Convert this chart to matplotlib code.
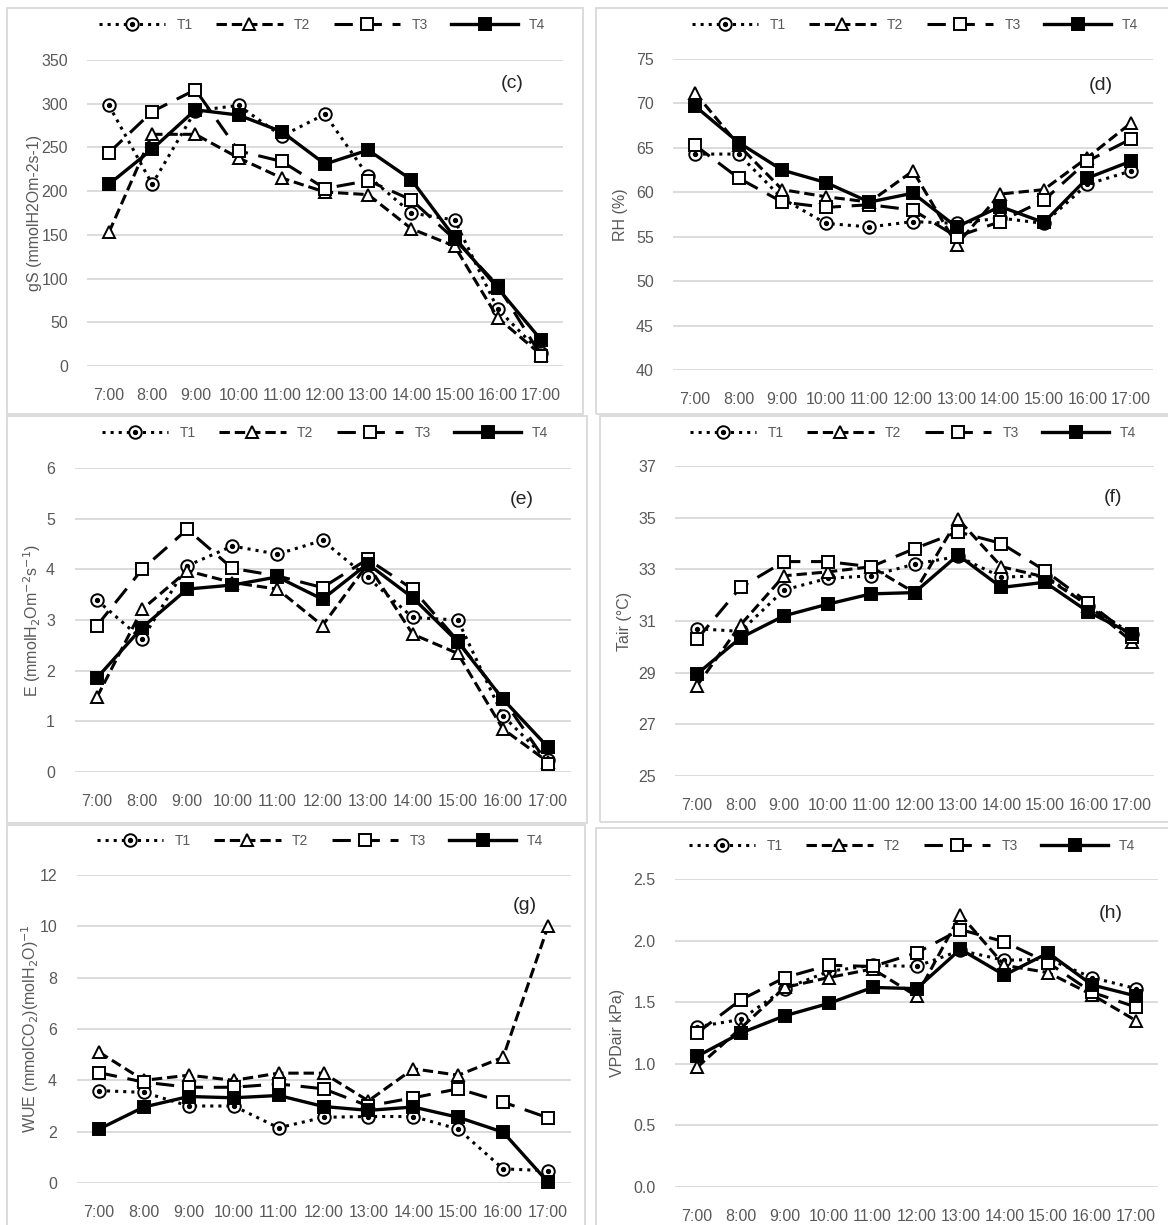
import matplotlib
matplotlib.use("Agg")
import matplotlib.pyplot as plt
from matplotlib.patches import Rectangle
from matplotlib.ticker import FormatStrFormatter

plt.rcParams['font.family'] = ['Liberation Sans', 'DejaVu Sans']

W, H = 1168, 1225
GREY = '#595959'
GRID = '#d9d9d9'

# --- donnees ---
hours = ['7:00', '8:00', '9:00', '10:00', '11:00', '12:00',
         '13:00', '14:00', '15:00', '16:00', '17:00']
treatments = ['T1', 'T2', 'T3', 'T4']

gs_T1 = [298, 208, 292, 298, 263, 288, 217, 175, 167, 65, 15]
gs_T2 = [153, 265, 265, 238, 215, 199, 196, 157, 137, 55, 13]
gs_T3 = [244, 291, 316, 246, 234, 203, 212, 190, 145, 92, 12]
gs_T4 = [208, 248, 293, 287, 268, 231, 247, 213, 147, 89, 30]

rh_T1 = [64.3, 64.3, 59.3, 56.5, 56.1, 56.7, 56.5, 57.1, 56.5, 60.9, 62.4]
rh_T2 = [71.2, 65.3, 60.3, 59.5, 58.9, 62.4, 54.1, 59.8, 60.3, 63.9, 67.8]
rh_T3 = [65.3, 61.6, 58.9, 58.3, 58.6, 58.0, 55.0, 56.7, 59.1, 63.5, 66.0]
rh_T4 = [69.7, 65.6, 62.5, 61.1, 58.9, 59.9, 56.1, 58.4, 56.6, 61.6, 63.5]

e_T1 = [3.39, 2.62, 4.07, 4.46, 4.30, 4.57, 3.84, 3.05, 3.00, 1.11, 0.23]
e_T2 = [1.48, 3.21, 3.97, 3.74, 3.61, 2.89, 4.10, 2.72, 2.34, 0.85, 0.20]
e_T3 = [2.89, 4.00, 4.79, 4.02, 3.87, 3.64, 4.20, 3.61, 2.59, 1.44, 0.16]
e_T4 = [1.86, 2.85, 3.61, 3.69, 3.85, 3.41, 4.11, 3.44, 2.57, 1.44, 0.49]

tair_T1 = [30.7, 30.6, 32.2, 32.65, 32.75, 33.2, 33.5, 32.7, 32.75, 31.6, 30.5]
tair_T2 = [28.5, 30.85, 32.75, 32.9, 33.1, 32.1, 34.95, 33.1, 32.7, 31.6, 30.2]
tair_T3 = [30.3, 32.3, 33.3, 33.3, 33.1, 33.8, 34.45, 34.0, 32.95, 31.7, 30.4]
tair_T4 = [28.95, 30.35, 31.2, 31.65, 32.05, 32.1, 33.55, 32.3, 32.5, 31.35, 30.5]

wue_T1 = [3.6, 3.53, 3.0, 3.0, 2.15, 2.56, 2.59, 2.59, 2.1, 0.55, 0.48]
wue_T2 = [5.1, 4.0, 4.2, 4.0, 4.28, 4.28, 3.2, 4.45, 4.2, 4.9, 10.0]
wue_T3 = [4.3, 3.93, 3.73, 3.73, 3.86, 3.67, 3.0, 3.32, 3.67, 3.15, 2.54]
wue_T4 = [2.1, 2.96, 3.37, 3.32, 3.41, 2.98, 2.83, 2.96, 2.56, 1.98, 0.03]

vpd_T1 = [1.30, 1.36, 1.61, 1.75, 1.80, 1.79, 1.92, 1.84, 1.85, 1.70, 1.61]
vpd_T2 = [0.97, 1.29, 1.62, 1.70, 1.77, 1.55, 2.21, 1.80, 1.74, 1.56, 1.35]
vpd_T3 = [1.25, 1.52, 1.70, 1.80, 1.79, 1.90, 2.09, 1.99, 1.82, 1.58, 1.46]
vpd_T4 = [1.06, 1.25, 1.39, 1.49, 1.62, 1.61, 1.93, 1.72, 1.90, 1.64, 1.55]

# styles des series
styles = [
    dict(ls=':', lw=2.2, marker='o', mfc='white', ms=9),
    dict(ls=(0, (3.4, 1.6)), lw=2.2, marker='^', mfc='white', ms=9),
    dict(ls=(0, (6, 3.5)), lw=2.2, marker='s', mfc='white', ms=9),
    dict(ls='-', lw=2.4, marker='s', mfc='black', ms=9),
]

# panneaux : boite, zone du graphe (x gauche, x droite, y haut, y bas), ...
panels = [
    dict(data=[gs_T1, gs_T2, gs_T3, gs_T4], box=(7, 8, 583, 414),
         area=(87.4, 562.6, 60, 366), ylim=(0, 350), step=50, fmt='%d',
         ylabel='gS (mmolH2Om-2s-1)', ylx=35, tag='(c)', tagxy=(512, 84),
         leg=(322, 25)),
    dict(data=[rh_T1, rh_T2, rh_T3, rh_T4], box=(596, 8, 1175, 414),
         area=(673.2, 1152.8, 59, 370), ylim=(40, 75), step=5, fmt='%d',
         ylabel='RH (%)', ylx=620, tag='(d)', tagxy=(1101, 85),
         leg=(915, 25)),
    dict(data=[e_T1, e_T2, e_T3, e_T4], box=(7, 416, 587, 823),
         area=(74.5, 570.5, 468, 772), ylim=(0, 6), step=1, fmt='%d',
         ylabel='E (mmolH$_2$Om$^{-2}$s$^{-1}$)', ylx=32, tag='(e)',
         tagxy=(522, 499), leg=(325, 433)),
    dict(data=[tair_T1, tair_T2, tair_T3, tair_T4], box=(600, 416, 1175, 822),
         area=(675.3, 1153.7, 466, 776), ylim=(25, 37), step=2, fmt='%d',
         ylabel='Tair (°C)', ylx=625, tag='(f)', tagxy=(1113, 497),
         leg=(913, 433)),
    dict(data=[wue_T1, wue_T2, wue_T3, wue_T4], box=(7, 825, 585, 1235),
         area=(76.5, 570.5, 875, 1183), ylim=(0, 12), step=2, fmt='%d',
         ylabel='WUE (mmolCO$_2$)(molH$_2$O)$^{-1}$', ylx=30, tag='(g)',
         tagxy=(525, 906), leg=(320, 841)),
    dict(data=[vpd_T1, vpd_T2, vpd_T3, vpd_T4], box=(596, 828, 1175, 1235),
         area=(675.0, 1158.0, 879, 1187), ylim=(0, 2.5), step=0.5, fmt='%.1f',
         ylabel='VPDair kPa)', ylx=618, tag='(h)', tagxy=(1111, 913),
         leg=(912, 846)),
]

fig = plt.figure(figsize=(W / 100, H / 100), dpi=100)
fig.patch.set_facecolor('white')

x = list(range(len(hours)))

for p in panels:
    # cadre gris du panneau
    bx0, by0, bx1, by1 = p['box']
    fig.patches.append(Rectangle((bx0 / W, 1 - by1 / H), (bx1 - bx0) / W,
                                 (by1 - by0) / H, transform=fig.transFigure,
                                 fill=False, edgecolor=GRID, lw=1.3))

    xl, xr, yt, yb = p['area']
    ax = fig.add_axes([xl / W, 1 - yb / H, (xr - xl) / W, (yb - yt) / H])
    ax.set_facecolor('none')

    handles = []
    for i, (vals, st) in enumerate(zip(p['data'], styles)):
        ln, = ax.plot(x, vals, color='black', mec='black', mew=1.4,
                      clip_on=False, zorder=3 + i, **st)
        if i == 0:
            # point central du marqueur T1
            dot, = ax.plot(x, vals, ls='none', marker='o', ms=2.8,
                           color='black', clip_on=False, zorder=3.5)
            handles.append((ln, dot))
        else:
            handles.append(ln)

    ax.set_xlim(-0.5, len(hours) - 0.5)
    lo, hi = p['ylim']
    ax.set_ylim(lo, hi)
    n = int(round((hi - lo) / p['step']))
    ax.set_yticks([lo + k * p['step'] for k in range(n + 1)])
    ax.yaxis.set_major_formatter(FormatStrFormatter(p['fmt']))
    ax.set_xticks(x)
    ax.set_xticklabels(hours)
    ax.grid(axis='y', color=GRID, lw=1.3)
    ax.set_axisbelow(True)
    for s in ax.spines.values():
        s.set_visible(False)
    ax.tick_params(axis='both', length=0, colors=GREY, labelsize=11.5)
    ax.tick_params(axis='x', pad=16)
    ax.tick_params(axis='y', pad=14)

    fig.text(p['ylx'] / W, 1 - (yt + yb) / 2 / H, p['ylabel'], rotation=90,
             ha='center', va='center', color=GREY, fontsize=11.5)
    fig.text(p['tagxy'][0] / W, 1 - p['tagxy'][1] / H, p['tag'],
             ha='center', va='center', color='#262626', fontsize=14)

    leg = ax.legend(handles, treatments, loc='center', ncol=4,
                    bbox_to_anchor=(p['leg'][0] / W, 1 - p['leg'][1] / H),
                    bbox_transform=fig.transFigure, frameon=False,
                    fontsize=10, handlelength=4.8, handletextpad=0.8,
                    columnspacing=1.7, borderaxespad=0)
    for t in leg.get_texts():
        t.set_color(GREY)

fig.savefig('out.png', dpi=100, facecolor='white')
